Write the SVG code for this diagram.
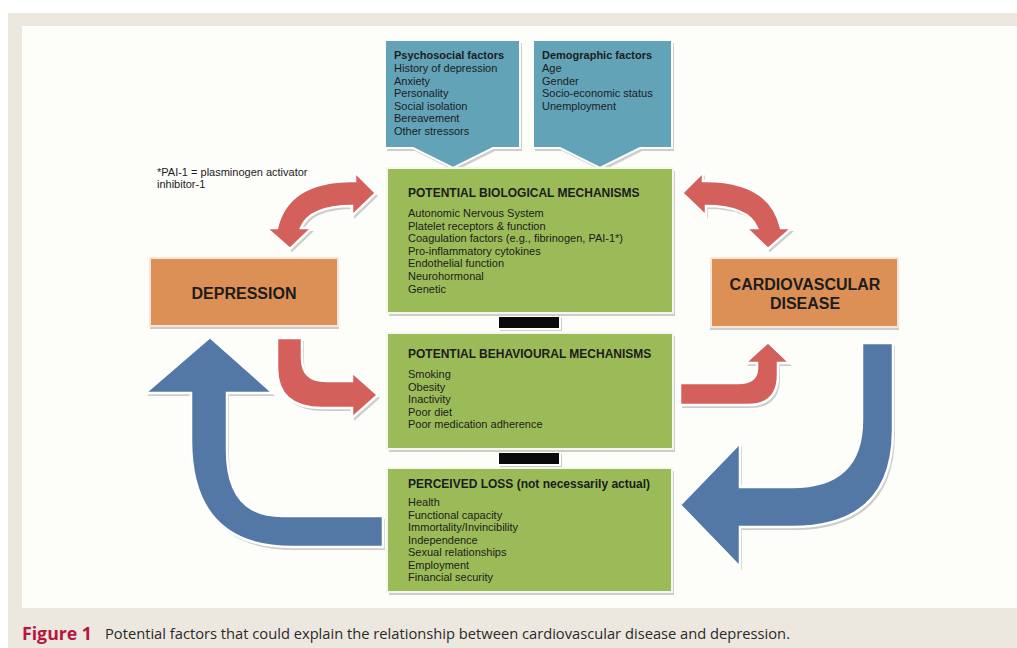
<svg xmlns="http://www.w3.org/2000/svg" width="1017" height="648" viewBox="0 0 1017 648">
<style>
.t{font-family:"Liberation Sans",Arial,sans-serif;fill:#1c1c1c}
.s11{font-size:11px}
.h12{font-size:12px;font-weight:bold}
.b11{font-size:11px;font-weight:bold}
.big{font-size:16px;font-weight:bold;text-anchor:middle}
.sh{fill:#cdcdcd}
.teal{fill:#62a3b8;stroke:#ffffff;stroke-width:2}
.green{fill:#9bbb59;stroke:#f4f8ec;stroke-width:2}
.orange{fill:#dd9055;stroke:#f7e6d8;stroke-width:2}
.red{fill:#d4605b;stroke:#ffffff;stroke-width:2.5}
.blue{fill:#5378a6;stroke:#ffffff;stroke-width:2.5}
.bar{fill:#0a0a0a;stroke:#ffffff;stroke-width:2}
</style>
<defs>
<path id="rarc" d="M703,181 Q770,180 781,228 L792,228 L768,249 L746,228 L757,228 Q748,206 706,206 L706,216 L682,193 L703,172 Z"/>
<path id="psy" d="M385,40 H520 V148 H493 L453,168 L413,148 H385 Z"/>
<path id="dem" d="M533,40 H672 V148 H640 L600,168 L560,148 H533 Z"/>
<path id="redDep" d="M277,338 L302,338 L302,358 Q302,381 326,381 L352,381 L352,372 L378,395 L352,418 L352,408 L322,408 Q277,408 277,368 Z"/>
<path id="redCvd" d="M680,383 L738,383 Q757,383 757,368 L757,363 L745,363 L768,342 L790,363 L778,363 L778,375 Q778,405 748,405 L680,405 Z"/>
<path id="blueL" d="M383,516 L282,516 Q227,516 227,450 L227,393 L273,393 L210,337 L145,393 L191,393 L191,440 Q191,547 292,547 L383,547 Z"/>
<path id="blueR" d="M862,343 L893,343 L893,430 Q893,527 792,527 L740,527 L740,567 L680,505 L740,443 L740,487 L792,487 Q862,487 862,420 Z"/>
</defs>
<rect x="0" y="0" width="1017" height="648" fill="#ffffff"/>
<rect x="8" y="13" width="1009" height="635" fill="#ece8df"/>
<rect x="22" y="26" width="995" height="582" fill="#fdfdf9"/>

<g id="connectors">
  <use href="#rarc" class="sh" transform="translate(2,3)"/>
  <use href="#rarc" class="red"/>
  <g transform="translate(1058,0) scale(-1,1)">
    <use href="#rarc" class="sh" transform="translate(-2,3)"/>
    <use href="#rarc" class="red"/>
  </g>
  <use href="#redDep" class="sh" transform="translate(2,3)"/>
  <use href="#redDep" class="red"/>
  <use href="#redCvd" class="sh" transform="translate(2,3)"/>
  <use href="#redCvd" class="red"/>
  <use href="#blueL" class="sh" transform="translate(2,3)"/>
  <use href="#blueL" class="blue"/>
  <use href="#blueR" class="sh" transform="translate(2,3)"/>
  <use href="#blueR" class="blue"/>
  <rect x="500" y="318" width="62" height="13" class="sh"/>
  <rect x="498" y="316" width="62" height="13" class="bar"/>
  <rect x="500" y="454" width="62" height="13" class="sh"/>
  <rect x="498" y="452" width="62" height="13" class="bar"/>
</g>

<g id="psychosocial">
  <use href="#psy" class="sh" transform="translate(2,3)"/>
  <use href="#psy" class="teal"/>
  <text class="t b11" x="394" y="59">Psychosocial factors</text>
  <text class="t s11" x="394" y="72">History of depression</text>
  <text class="t s11" x="394" y="84.5">Anxiety</text>
  <text class="t s11" x="394" y="97">Personality</text>
  <text class="t s11" x="394" y="109.5">Social isolation</text>
  <text class="t s11" x="394" y="122">Bereavement</text>
  <text class="t s11" x="394" y="134.5">Other stressors</text>
</g>

<g id="demographic">
  <use href="#dem" class="sh" transform="translate(2,3)"/>
  <use href="#dem" class="teal"/>
  <text class="t b11" x="542" y="59">Demographic factors</text>
  <text class="t s11" x="542" y="72">Age</text>
  <text class="t s11" x="542" y="84.5">Gender</text>
  <text class="t s11" x="542" y="97">Socio-economic status</text>
  <text class="t s11" x="542" y="109.5">Unemployment</text>
</g>

<g id="note">
  <text class="t s11" x="157" y="176">*PAI-1 = plasminogen activator</text>
  <text class="t s11" x="157" y="188">inhibitor-1</text>
</g>

<g id="biological">
  <rect x="389" y="171" width="286" height="145" class="sh"/>
  <rect x="387" y="168" width="286" height="145" class="green"/>
  <text class="t h12" x="408" y="197">POTENTIAL BIOLOGICAL MECHANISMS</text>
  <text class="t s11" x="408" y="217">Autonomic Nervous System</text>
  <text class="t s11" x="408" y="229.6">Platelet receptors &amp; function</text>
  <text class="t s11" x="408" y="242.2">Coagulation factors (e.g., fibrinogen, PAI-1*)</text>
  <text class="t s11" x="408" y="254.8">Pro-inflammatory cytokines</text>
  <text class="t s11" x="408" y="267.4">Endothelial function</text>
  <text class="t s11" x="408" y="280">Neurohormonal</text>
  <text class="t s11" x="408" y="292.6">Genetic</text>
</g>

<g id="behavioural">
  <rect x="389" y="336" width="286" height="116" class="sh"/>
  <rect x="387" y="333" width="286" height="116" class="green"/>
  <text class="t h12" x="408" y="358">POTENTIAL BEHAVIOURAL MECHANISMS</text>
  <text class="t s11" x="408" y="378">Smoking</text>
  <text class="t s11" x="408" y="390.6">Obesity</text>
  <text class="t s11" x="408" y="403.2">Inactivity</text>
  <text class="t s11" x="408" y="415.8">Poor diet</text>
  <text class="t s11" x="408" y="428.4">Poor medication adherence</text>
</g>

<g id="perceived">
  <rect x="389" y="471" width="285" height="124" class="sh"/>
  <rect x="387" y="468" width="285" height="124" class="green"/>
  <text class="t h12" x="408" y="488">PERCEIVED LOSS (not necessarily actual)</text>
  <text class="t s11" x="408" y="506">Health</text>
  <text class="t s11" x="408" y="518.5">Functional capacity</text>
  <text class="t s11" x="408" y="531">Immortality/Invincibility</text>
  <text class="t s11" x="408" y="543.5">Independence</text>
  <text class="t s11" x="408" y="556">Sexual relationships</text>
  <text class="t s11" x="408" y="568.5">Employment</text>
  <text class="t s11" x="408" y="581">Financial security</text>
</g>

<g id="depression">
  <rect x="150" y="261" width="189" height="68" class="sh"/>
  <rect x="150" y="258" width="188" height="68" class="orange"/>
  <text class="t big" x="244" y="299">DEPRESSION</text>
</g>

<g id="cvd">
  <rect x="710" y="261" width="189" height="69" class="sh"/>
  <rect x="711" y="258" width="187" height="69" class="orange"/>
  <text class="t big" x="805" y="290">CARDIOVASCULAR</text>
  <text class="t big" x="805" y="309">DISEASE</text>
</g>

<g id="caption">
  <text x="22" y="640" font-family="'Open Sans','Noto Sans',sans-serif" font-size="17" font-weight="bold" fill="#b5163f" textLength="70" lengthAdjust="spacingAndGlyphs">Figure 1</text>
  <text x="105" y="639" font-family="'Open Sans','Noto Sans',sans-serif" font-size="15" fill="#2a2a2a" textLength="685" lengthAdjust="spacingAndGlyphs">Potential factors that could explain the relationship between cardiovascular disease and depression.</text>
</g>
</svg>
